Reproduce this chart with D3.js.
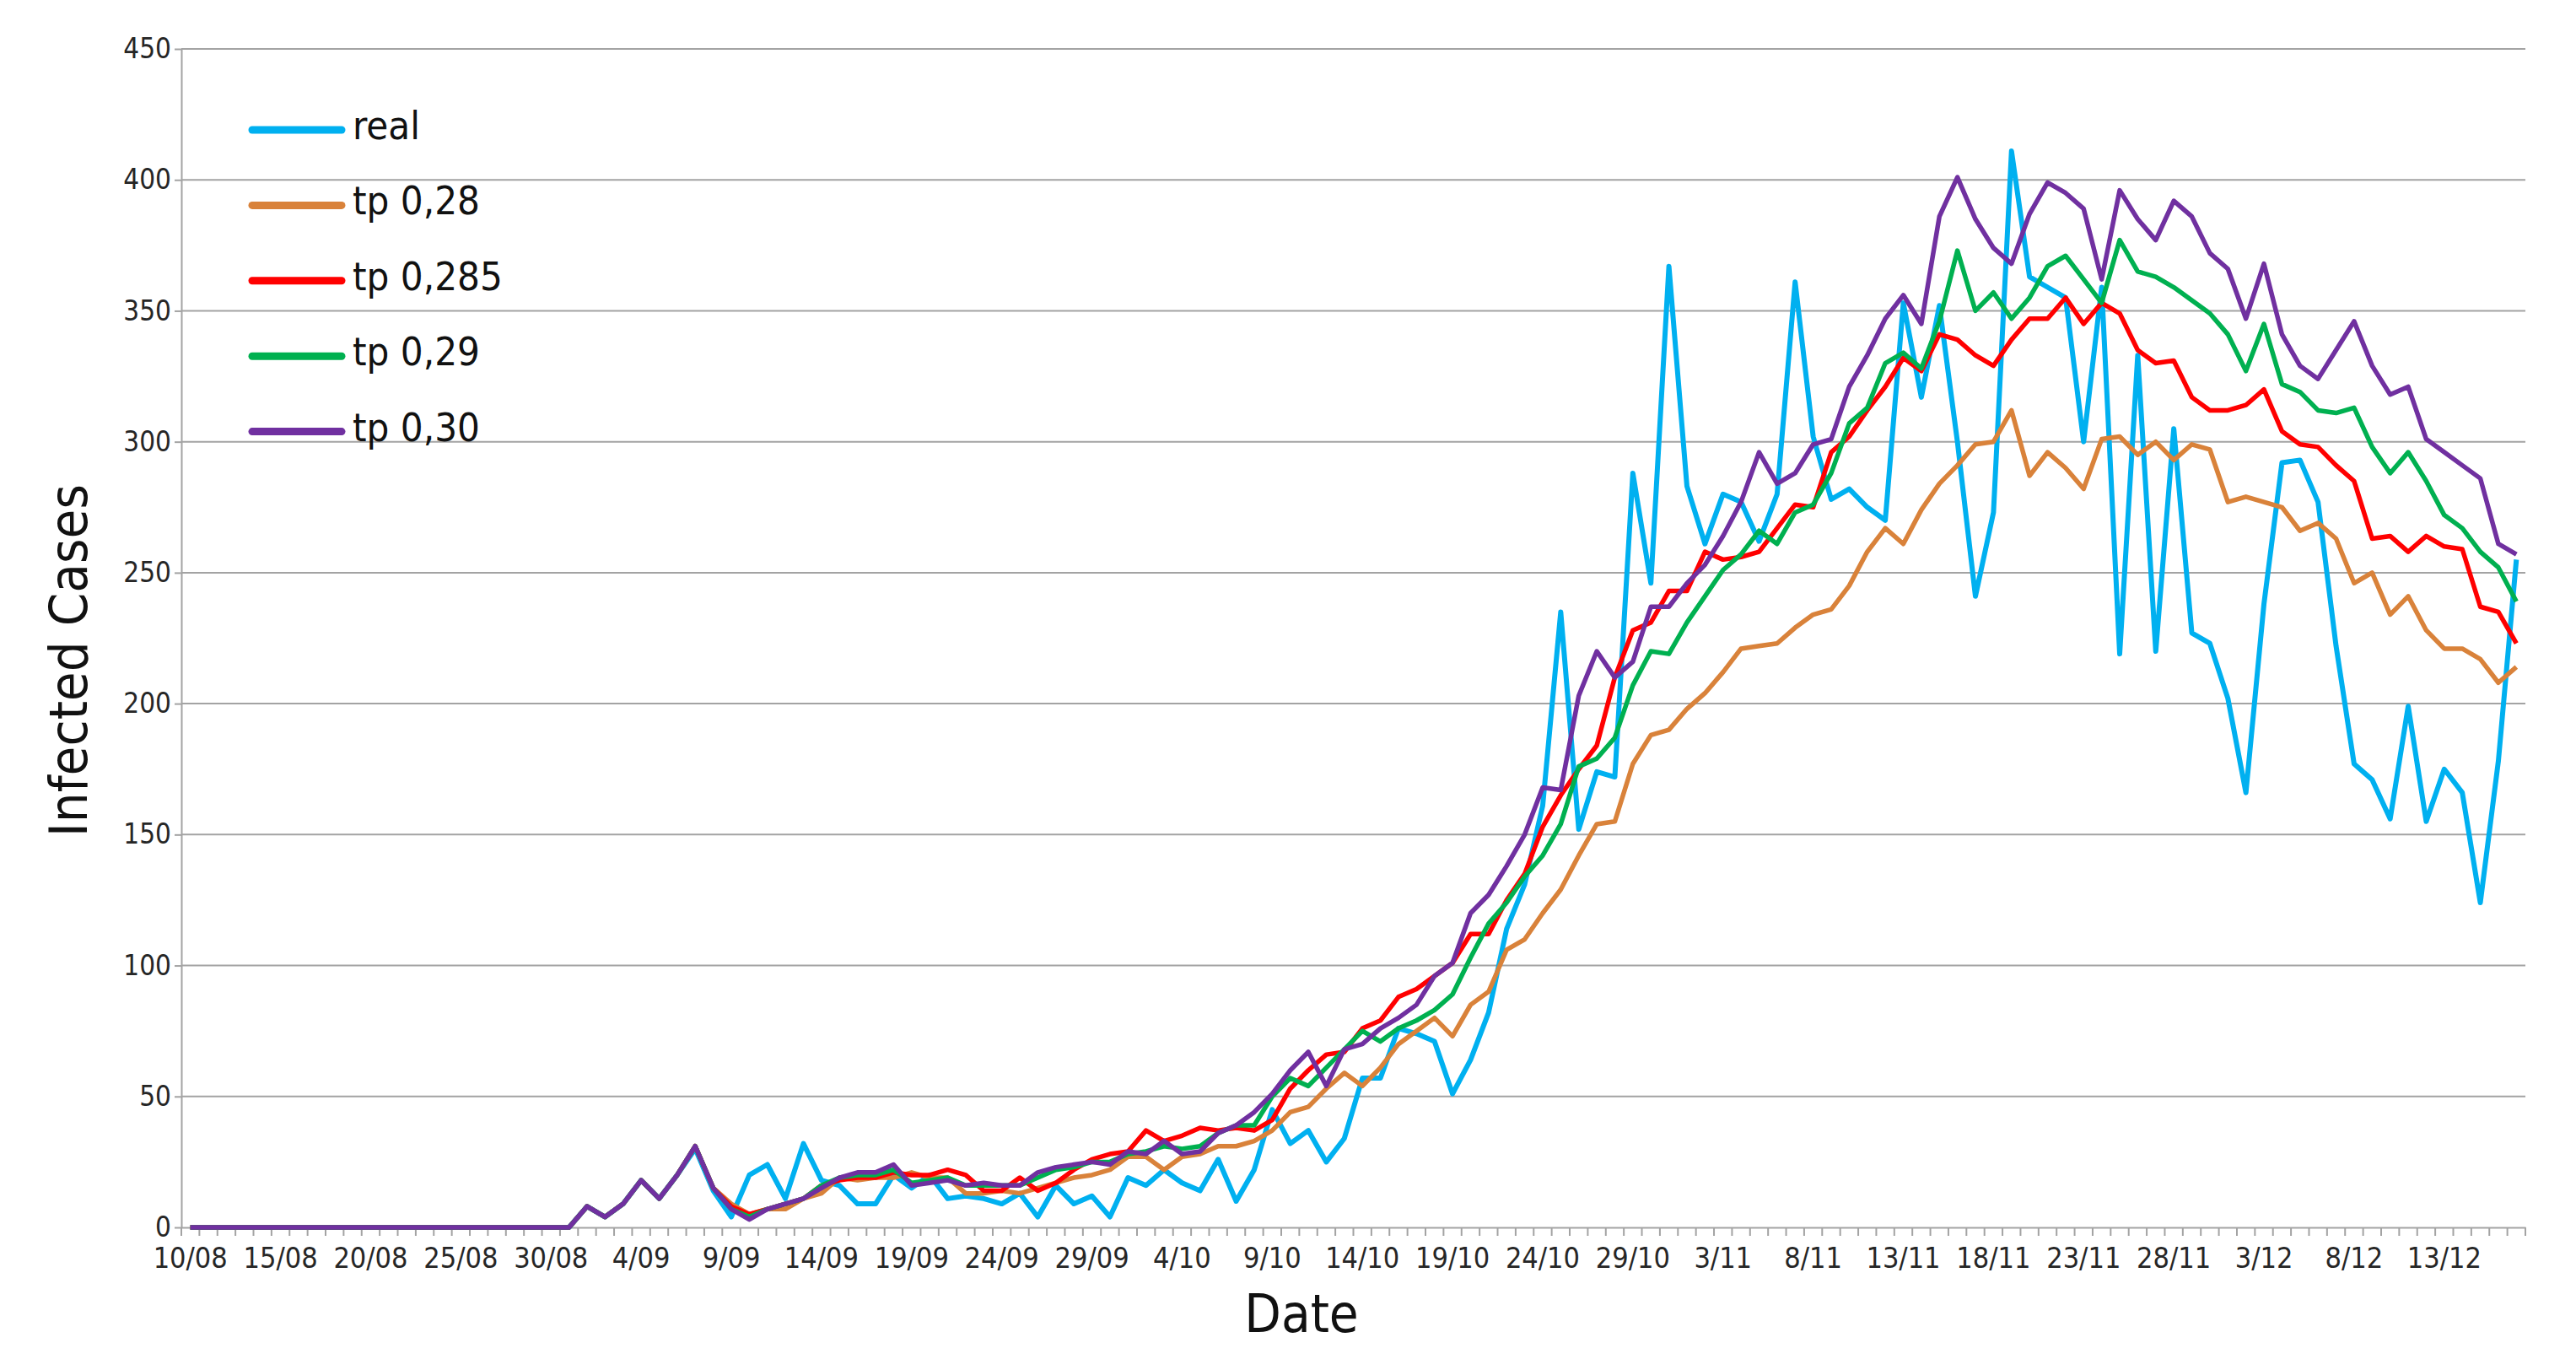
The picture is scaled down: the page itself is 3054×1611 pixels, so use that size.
<!DOCTYPE html>
<html>
  <head>
    <title>Infected Cases</title>
    <script src="https://cdn.jsdelivr.net/npm/d3@7"></script>
    <style>
      body {
        margin: 0;
        background: #fff;
      }
      text {
        font-family: "DejaVu Sans Condensed", "DejaVu Sans", sans-serif;
        font-stretch: condensed;
      }
    </style>
  </head>

  <body>
    <script>
      // Dagene: 10/08 til 17/12, en værdi pr. dag
      const days = d3.timeDay.range(new Date(2020, 7, 10), new Date(2020, 11, 18));
      const fmt = d3.timeFormat("%-d/%m");
      const dayLabels = days.map(fmt);

      // Datoer der får en label på x-aksen (hver 5. dag)
      const tickLabels = ["10/08", "15/08", "20/08", "25/08", "30/08", "4/09", "9/09",
        "14/09", "19/09", "24/09", "29/09", "4/10", "9/10", "14/10", "19/10", "24/10",
        "29/10", "3/11", "8/11", "13/11", "18/11", "23/11", "28/11", "3/12", "8/12", "13/12"];

      const yTicks = [0, 50, 100, 150, 200, 250, 300, 350, 400, 450];

      const seriesNames = ["real", "tp 0,28", "tp 0,285", "tp 0,29", "tp 0,30"];
      const seriesColors = ["#00b0f0", "#d9823a", "#ff0000", "#00b050", "#7030a0"];

      const real = [
        0, 0, 0, 0, 0, 0, 0, 0, 0, 0,
        0, 0, 0, 0, 0, 0, 0, 0, 0, 0,
        0, 0, 8, 4, 9, 18, 11, 20, 30, 14,
        4, 20, 24, 11, 32, 18, 16, 9, 9, 20,
        15, 20, 11, 12, 11, 9, 13, 4, 16, 9,
        12, 4, 19, 16, 22, 17, 14, 26, 10, 22,
        45, 32, 37, 25, 34, 57, 57, 76, 74, 71,
        51, 64, 82, 114, 131, 161, 235, 152, 174, 172,
        288, 246, 367, 283, 261, 280, 277, 262, 280, 361,
        302, 278, 282, 275, 270, 353, 317, 352, 300, 241,
        273, 411, 363, 359, 355, 300, 359, 219, 333, 220,
        305, 227, 223, 202, 166, 238, 292, 293, 277, 222,
        177, 171, 156, 199, 155, 175, 166, 124, 178, 255
      ];

      const tp028 = [
        0, 0, 0, 0, 0, 0, 0, 0, 0, 0,
        0, 0, 0, 0, 0, 0, 0, 0, 0, 0,
        0, 0, 8, 4, 9, 18, 11, 20, 31, 15,
        9, 5, 7, 7, 11, 13, 19, 18, 19, 19,
        21, 19, 19, 13, 13, 14, 13, 15, 17, 19,
        20, 22, 27, 27, 22, 27, 28, 31, 31, 33,
        37, 44, 46, 53, 59, 54, 61, 70, 75, 80,
        73, 85, 90, 106, 110, 120, 129, 142, 154, 155,
        177, 188, 190, 198, 204, 212, 221, 222, 223, 229,
        234, 236, 245, 258, 267, 261, 274, 284, 291, 299,
        300, 312, 287, 296, 290, 282, 301, 302, 295, 300,
        293, 299, 297, 277, 279, 277, 275, 266, 269, 263,
        246, 250, 234, 241, 228, 221, 221, 217, 208, 214
      ];

      const tp0285 = [
        0, 0, 0, 0, 0, 0, 0, 0, 0, 0,
        0, 0, 0, 0, 0, 0, 0, 0, 0, 0,
        0, 0, 8, 4, 9, 18, 11, 20, 31, 15,
        8, 5, 7, 9, 11, 16, 18, 19, 19, 21,
        20, 20, 22, 20, 14, 14, 19, 14, 17, 22,
        26, 28, 29, 37, 33, 35, 38, 37, 38, 37,
        41, 53, 60, 66, 67, 76, 79, 88, 91, 96,
        101, 112, 112, 125, 135, 153, 165, 175, 184, 210,
        228, 231, 243, 243, 258, 255, 256, 258, 267, 276,
        275, 296, 302, 312, 321, 332, 327, 341, 339, 333,
        329, 339, 347, 347, 355, 345, 353, 349, 335, 330,
        331, 317, 312, 312, 314, 320, 304, 299, 298, 291,
        285, 263, 264, 258, 264, 260, 259, 237, 235, 223
      ];

      const tp029 = [
        0, 0, 0, 0, 0, 0, 0, 0, 0, 0,
        0, 0, 0, 0, 0, 0, 0, 0, 0, 0,
        0, 0, 8, 4, 9, 18, 11, 20, 31, 15,
        7, 4, 7, 9, 11, 16, 19, 20, 20, 22,
        17, 18, 19, 16, 16, 16, 16, 19, 22, 23,
        25, 25, 28, 29, 31, 30, 31, 36, 39, 39,
        50, 57, 54, 61, 68, 75, 71, 76, 79, 83,
        89, 103, 116, 124, 134, 142, 154, 176, 179, 187,
        207, 220, 219, 231, 241, 251, 257, 266, 261, 273,
        276, 288, 307, 313, 330, 334, 328, 346, 373, 350,
        357, 347, 355, 367, 371, 362, 353, 377, 365, 363,
        359, 354, 349, 341, 327, 345, 322, 319, 312, 311,
        313, 298, 288, 296, 285, 272, 267, 258, 252, 239
      ];

      const tp030 = [
        0, 0, 0, 0, 0, 0, 0, 0, 0, 0,
        0, 0, 0, 0, 0, 0, 0, 0, 0, 0,
        0, 0, 8, 4, 9, 18, 11, 20, 31, 15,
        7, 3, 7, 9, 11, 15, 19, 21, 21, 24,
        16, 17, 18, 16, 17, 16, 16, 21, 23, 24,
        25, 24, 29, 28, 33, 28, 29, 36, 39, 44,
        51, 60, 67, 54, 68, 70, 76, 80, 85, 96,
        101, 120, 127, 138, 150, 168, 167, 203, 220, 210,
        216, 237, 237, 246, 253, 264, 277, 296, 284, 288,
        299, 301, 321, 333, 347, 356, 345, 386, 401, 385,
        374, 368, 387, 399, 395, 389, 362, 396, 385, 377,
        392, 386, 372, 366, 347, 368, 341, 329, 324, 335,
        346, 329, 318, 321, 301, 296, 291, 286, 261, 257
      ];

      const series = [real, tp028, tp0285, tp029, tp030];

      // Størrelse og placering af plottet
      const w = 3054;
      const h = 1611;
      const plotLeft = 215;
      const plotRight = 2994;
      const plotTop = 58;
      const plotBottom = 1455;
      const gridColor = "#a3a3a3";

      const svg = d3
        .select("body")
        .append("svg")
        .attr("width", w)
        .attr("height", h);

      const x = d3.scaleBand().domain(dayLabels).range([plotLeft, plotRight]);
      const y = d3.scaleLinear().domain([0, 450]).range([plotBottom, plotTop]);

      // Vandrette gitterlinjer
      svg
        .selectAll("line.grid")
        .data(yTicks.filter((d) => d > 0))
        .enter()
        .append("line")
        .attr("class", "grid")
        .attr("x1", plotLeft)
        .attr("x2", plotRight)
        .attr("y1", (d) => y(d))
        .attr("y2", (d) => y(d))
        .attr("stroke", gridColor)
        .attr("stroke-width", 2);

      // Y-akse
      const yAxis = svg
        .append("g")
        .attr("transform", `translate(${plotLeft},0)`)
        .call(d3.axisLeft(y).tickValues(yTicks).tickSizeInner(8).tickSizeOuter(0).tickPadding(4));
      yAxis.select(".domain").attr("stroke", gridColor).attr("stroke-width", 2);
      yAxis.selectAll(".tick line").attr("stroke", gridColor).attr("stroke-width", 2);
      yAxis
        .selectAll(".tick text")
        .attr("font-size", "33px")
        .attr("fill", "#262626");

      // X-akse: streg for hver dag (mellem dagene) og labels hver 5. dag
      const boundaries = dayLabels.map((d) => x(d)).concat([x.range()[1]]);
      svg
        .selectAll("line.xtick")
        .data(boundaries)
        .enter()
        .append("line")
        .attr("class", "xtick")
        .attr("x1", (d) => d)
        .attr("x2", (d) => d)
        .attr("y1", plotBottom)
        .attr("y2", plotBottom + 10)
        .attr("stroke", gridColor)
        .attr("stroke-width", 2);

      const xAxis = svg
        .append("g")
        .attr("transform", `translate(0,${plotBottom})`)
        .call(d3.axisBottom(x).tickValues(tickLabels).tickSize(0).tickPadding(24));
      xAxis.select(".domain").attr("stroke", gridColor).attr("stroke-width", 2);
      xAxis
        .selectAll(".tick text")
        .attr("font-size", "34px")
        .attr("fill", "#262626");

      // Linjerne
      const line = d3
        .line()
        .x((d, i) => x(dayLabels[i]) + x.bandwidth() / 2)
        .y((d) => y(d));

      svg
        .selectAll("path.serie")
        .data(series)
        .enter()
        .append("path")
        .attr("class", "serie")
        .attr("d", line)
        .attr("fill", "none")
        .attr("stroke", (d, i) => seriesColors[i])
        .attr("stroke-width", (d, i) => (i === 0 ? 6 : 5.5))
        .attr("stroke-linejoin", "round");

      // Legend
      const legend = svg
        .selectAll("g.legend")
        .data(seriesNames)
        .enter()
        .append("g")
        .attr("class", "legend")
        .attr("transform", (d, i) => `translate(299,${154 + i * 89.4})`);

      legend
        .append("line")
        .attr("x1", 0)
        .attr("x2", 106)
        .attr("stroke", (d, i) => seriesColors[i])
        .attr("stroke-width", 9)
        .attr("stroke-linecap", "round");

      legend
        .append("text")
        .attr("x", 119)
        .attr("y", 11)
        .attr("font-size", "47px")
        .attr("fill", "#111")
        .text((d) => d);

      // Aksetitler
      svg
        .append("text")
        .attr("x", 1543)
        .attr("y", 1579)
        .attr("text-anchor", "middle")
        .attr("font-size", "63px")
        .attr("fill", "#111")
        .text("Date");

      svg
        .append("text")
        .attr("transform", "translate(103,783) rotate(-90)")
        .attr("text-anchor", "middle")
        .attr("font-size", "63px")
        .attr("fill", "#111")
        .text("Infected Cases");
    </script>
  </body>
</html>
